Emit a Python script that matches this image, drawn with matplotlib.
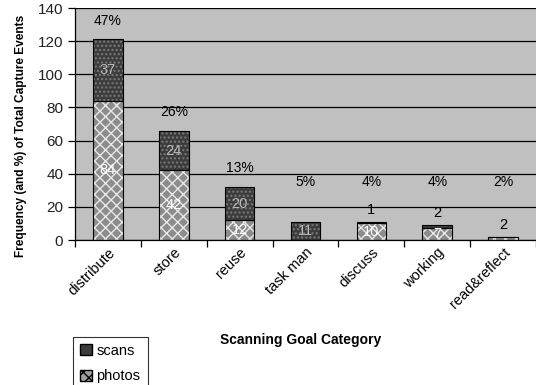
import numpy as np
from matplotlib import pyplot as plt
from matplotlib.patches import Patch

plt.rcParams['font.family'] = ['Liberation Sans', 'DejaVu Sans']

categories = ['distribute', 'store', 'reuse', 'task man', 'discuss', 'working', 'read&reflect']
photos = [84, 42, 12, 0, 10, 7, 2]
scans = [37, 24, 20, 11, 1, 2, 0]
percents = ['47%', '26%', '13%', '5%', '4%', '4%', '2%']

x = np.arange(len(categories))
photos = np.array(photos)
scans = np.array(scans)
totals = photos + scans
w = 0.45

fig = plt.figure(figsize=(5.36, 3.85), dpi=100)
ax = fig.add_axes([75 / 536, 145 / 385, 461 / 536, 232 / 385])
ax.set_facecolor('#c0c0c0')

# photos (light, cross hatch)
ax.bar(x, photos, w, color='#8c8c8c', edgecolor='#e8e8e8', hatch='xxx', linewidth=0, zorder=2)
ax.bar(x, photos, w, fill=False, edgecolor='black', linewidth=0.8, zorder=3)
# scans (dark, dotted)
ax.bar(x, scans, w, bottom=photos, color='#3c3c3c', edgecolor='#7a7a7a', hatch='....', linewidth=0, zorder=2)
ax.bar(x, scans, w, bottom=photos, fill=False, edgecolor='black', linewidth=0.8, zorder=3)

for i in range(len(x)):
    # segment labels
    if photos[i] >= 5:
        ax.text(x[i], photos[i] / 2, str(photos[i]), ha='center', va='center',
                color='white', fontsize=10.5, zorder=4)
    elif photos[i] > 0 and scans[i] == 0:
        ax.text(x[i], totals[i] + 3, str(photos[i]), ha='center', va='bottom',
                color='black', fontsize=10.5, zorder=4)
    if scans[i] >= 5:
        ax.text(x[i], photos[i] + scans[i] / 2, str(scans[i]), ha='center', va='center',
                color='#b8b8b8', fontsize=10.5, zorder=4)
    elif scans[i] > 0:
        ax.text(x[i], totals[i] + 3, str(scans[i]), ha='center', va='bottom',
                color='black', fontsize=10.5, zorder=4)
    # percentage
    ax.text(x[i], max(totals[i] + 7, 31), percents[i], ha='center', va='bottom',
            color='black', fontsize=10, zorder=4)

ax.set_ylim(0, 140)
ax.set_xlim(-0.5, 6.41)
ax.set_yticks(range(0, 141, 20))
ax.yaxis.grid(True, color='black', linewidth=0.9)
ax.set_axisbelow(True)
ax.tick_params(axis='y', direction='out', length=5, labelsize=11, labelcolor='#222222', width=0.9)

ax.set_xticks(np.arange(-0.5, 7, 1))
ax.set_xticklabels([])
ax.tick_params(axis='x', which='major', direction='out', length=5, width=0.9)
ax.set_xticks(x, minor=True)
ax.set_xticklabels(categories, minor=True, rotation=45, ha='right', rotation_mode='anchor',
                   fontsize=10.5)
ax.tick_params(axis='x', which='minor', length=0, pad=4)

for s in ['top', 'right']:
    ax.spines[s].set_visible(False)
ax.spines['left'].set_linewidth(0.9)
ax.spines['bottom'].set_linewidth(0.9)

ax.set_ylabel('Frequency (and %) of Total Capture Events', fontsize=8.6, fontweight='bold', labelpad=4)
ax.yaxis.set_label_coords(-0.105, 0.45)
fig.text(0.56, 0.117, 'Scanning Goal Category', ha='center', va='center',
         fontsize=10, fontweight='bold')

handles = [Patch(facecolor='#3c3c3c', edgecolor='black', label='scans'),
           Patch(facecolor='#a0a0a0', edgecolor='black', hatch='xxx', label='photos')]
leg = fig.legend(handles=handles, loc='lower left', bbox_to_anchor=(73 / 536, -0.015),
                 fontsize=10.5, frameon=True, fancybox=False, edgecolor='black',
                 handlelength=0.8, handleheight=0.8, handletextpad=0.3,
                 borderpad=0.5, labelspacing=0.8, borderaxespad=0)
leg.get_frame().set_linewidth(0.8)

fig.savefig('out.png', dpi=100)
